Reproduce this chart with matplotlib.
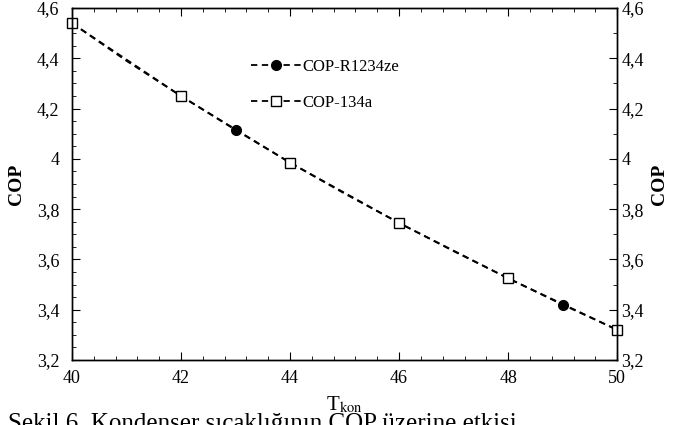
import matplotlib

matplotlib.use("Agg")
import matplotlib.pyplot as plt
from matplotlib.ticker import FuncFormatter, MultipleLocator

# condenser temperature vs COP
t_r1234ze = [40, 41, 42, 43, 44, 45, 46, 47, 48, 49, 50]
cop_r1234ze = [4.54, 4.39, 4.25, 4.115, 3.985, 3.862, 3.745, 3.633, 3.525, 3.42, 3.32]
mark_r1234ze = [3, 9]  # only 43 and 49 carry a marker

t_134a = [40, 42, 44, 46, 48, 50]
cop_134a = [4.54, 4.25, 3.985, 3.745, 3.525, 3.32]

caption = "Şekil 6. Kondenser sıcaklığının COP üzerine etkisi"

plt.rcParams["font.family"] = ["Liberation Serif", "DejaVu Serif"]
plt.rcParams["mathtext.fontset"] = "stix"


def comma(v, _pos):
    return f"{v:g}".replace(".", ",")


fig = plt.figure(figsize=(6.73, 4.25), dpi=100)
ax = fig.add_axes([0.107, 0.153, 0.81, 0.828])

ax.plot(t_r1234ze, cop_r1234ze, ls=(0, (3.5, 2.5)), color="black", lw=1.3,
        marker="o", ms=7, mfc="black", mec="black", markevery=mark_r1234ze,
        label="COP-R1234ze")
ax.plot(t_134a, cop_134a, ls=(0, (3.5, 2.5)), color="black", lw=1.3,
        marker="s", ms=7.5, mfc="white", mec="black", mew=1.0,
        label="COP-134a", clip_on=False)

ax.set_xlim(40, 50)
ax.set_ylim(3.2, 4.6)
ax.xaxis.set_major_locator(MultipleLocator(2))
ax.xaxis.set_minor_locator(MultipleLocator(0.4))
ax.yaxis.set_major_locator(MultipleLocator(0.2))
ax.yaxis.set_minor_locator(MultipleLocator(0.05))
ax.yaxis.set_major_formatter(FuncFormatter(comma))
ax.tick_params(which="both", direction="in", top=True, labelsize=13)
ax.tick_params(which="major", length=6)
ax.tick_params(which="minor", length=3)
ax.tick_params(axis="x", which="major", pad=7)
ax.tick_params(axis="y", which="major", pad=9)
ax.set_ylabel("COP", fontsize=14, fontweight="bold", labelpad=9)
ax.set_xlabel(r"T$_{\mathrm{kon}}$", fontsize=15, labelpad=6)

ax2 = ax.twinx()
ax2.set_ylim(3.2, 4.6)
ax2.yaxis.set_major_locator(MultipleLocator(0.2))
ax2.yaxis.set_minor_locator(MultipleLocator(0.1))
ax2.yaxis.set_major_formatter(FuncFormatter(comma))
ax2.tick_params(which="both", direction="in", labelsize=13, pad=3)
ax2.tick_params(which="major", length=6)
ax2.tick_params(which="minor", length=3)
ax2.set_ylabel("COP", fontsize=14, fontweight="bold", labelpad=5)

for a in (ax, ax2):
    for s in a.spines.values():
        s.set_linewidth(1.0)

ax.legend(loc="upper left", bbox_to_anchor=(0.30, 0.898), frameon=False,
          fontsize=12, numpoints=1, handlelength=3.0, handletextpad=0.1,
          labelspacing=1.2)

fig.text(0.012, 1 - 413 / 425, caption, fontsize=18, ha="left", va="top")

fig.savefig("out.png", dpi=100)
